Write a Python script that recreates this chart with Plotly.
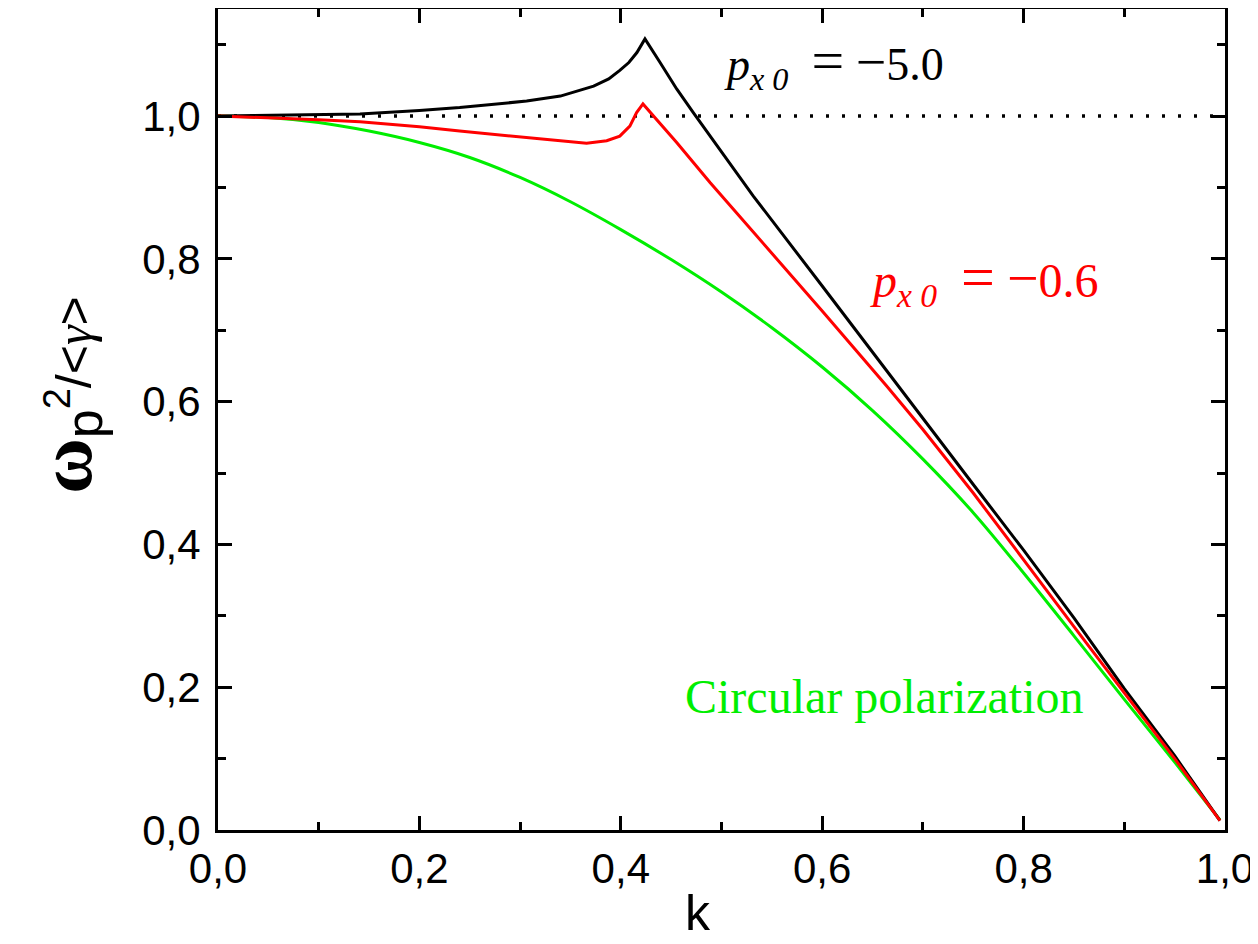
import plotly.graph_objects as go

# ---- data ----
k_black = [0.0, 0.05, 0.10, 0.141, 0.20, 0.24, 0.3065, 0.34, 0.373, 0.388, 0.399, 0.408, 0.416, 0.424,
           0.439, 0.4555, 0.472, 0.4886, 0.5316, 0.60, 0.664, 0.70, 0.75, 0.80, 0.85, 0.90, 0.95, 0.995]
w_black = [1.000, 1.001, 1.002, 1.003, 1.008, 1.012, 1.021, 1.028, 1.042, 1.052, 1.064, 1.075, 1.089, 1.108,
           1.075, 1.038, 1.005, 0.972, 0.888, 0.762, 0.643, 0.576, 0.484, 0.392, 0.297, 0.198, 0.104, 0.013]

k_red = [0.0, 0.05, 0.10, 0.141, 0.20, 0.24, 0.30, 0.34, 0.366, 0.386, 0.399, 0.409, 0.4157, 0.422,
         0.44, 0.4555, 0.4886, 0.5316, 0.60, 0.664, 0.70, 0.75, 0.80, 0.85, 0.90, 0.95, 0.995]
w_red = [1.000, 0.998, 0.995, 0.992, 0.985, 0.979, 0.971, 0.965, 0.962, 0.9655, 0.972, 0.986, 1.005, 1.017,
         0.988, 0.963, 0.907, 0.838, 0.727, 0.622, 0.561, 0.472, 0.378, 0.285, 0.192, 0.100, 0.013]

k_green = [0.0, 0.05, 0.10, 0.15, 0.20, 0.25, 0.30, 0.35, 0.40, 0.45, 0.50, 0.55, 0.60,
           0.65, 0.70, 0.75, 0.80, 0.85, 0.90, 0.95, 0.995]
w_green = [1.000, 0.998, 0.991, 0.979, 0.963, 0.942, 0.914, 0.880, 0.841, 0.799, 0.7535, 0.7035, 0.6485,
           0.5875, 0.5195, 0.4445, 0.360, 0.272, 0.183, 0.095, 0.014]

k_ref = [0.0, 1.0]
w_ref = [1.0, 1.0]

x_ticks = [0.0, 0.2, 0.4, 0.6, 0.8, 1.0]
y_ticks = [0.0, 0.2, 0.4, 0.6, 0.8, 1.0]

fig = go.Figure()
fig.add_trace(go.Scatter(x=k_ref, y=w_ref, mode="lines",
                         line=dict(color="black", width=3.5, dash="3px,13px"), showlegend=False))
fig.add_trace(go.Scatter(x=k_green, y=w_green, mode="lines",
                         line=dict(color="#00ee00", width=3, shape="spline", smoothing=0.8), showlegend=False))
fig.add_trace(go.Scatter(x=k_black, y=w_black, mode="lines",
                         line=dict(color="black", width=3), showlegend=False))
fig.add_trace(go.Scatter(x=k_red, y=w_red, mode="lines",
                         line=dict(color="#ff0000", width=3), showlegend=False))

axis_common = dict(
    showline=True, linecolor="black", linewidth=3, mirror="ticks",
    ticks="inside", ticklen=14, tickwidth=2.5, tickcolor="black",
    showgrid=False, zeroline=False, tickformat=".1f",
    tickfont=dict(family="Liberation Sans, Arial", size=42, color="black"),
    minor=dict(ticks="inside", ticklen=8, tickwidth=2.5, tickcolor="black", dtick=0.1, showgrid=False),
)

fig.update_xaxes(range=[0, 1], tickvals=x_ticks, ticklabelstandoff=0, **axis_common)
fig.update_yaxes(range=[0, 1.15], tickvals=y_ticks, ticklabelstandoff=6, **axis_common)

# x-axis title
fig.add_annotation(
    x=0.4766, y=-0.101, xref="paper", yref="paper", xanchor="center", yanchor="middle",
    showarrow=False, text="k",
    font=dict(family="Liberation Sans, Arial", size=50, color="black"),
)
# y-axis title
fig.add_annotation(
    x=-0.149, y=0.53, xref="paper", yref="paper", xanchor="center", yanchor="middle",
    showarrow=False, textangle=-90,
    text=("<span style='font-family:Liberation Serif;font-size:76px'><b>ω</b></span>"
          "<sub><span style='font-size:52px'>p</span></sub>"
          "<sup><span style='font-size:38px'>2</span></sup>/&lt;"
          "<span style='font-family:Liberation Serif'><i>γ</i></span>&gt;"),
    font=dict(family="Liberation Sans, Arial", size=50, color="black"),
)

fig.add_annotation(
    x=0.5, y=1.075, xref="x", yref="y", xanchor="left", yanchor="middle", showarrow=False,
    text=("<i>p</i><sub><i>x 0</i></sub>&nbsp;&nbsp;<span style='font-size:58px'>=</span>&nbsp;"
          "<span style='font-size:54px'>−</span>5.0"),
    font=dict(family="Liberation Serif", size=46, color="black"),
)
fig.add_annotation(
    x=0.645, y=0.772, xref="x", yref="y", xanchor="left", yanchor="middle", showarrow=False,
    text=("<i>p</i><sub><i>x 0</i></sub>&nbsp;&nbsp;<span style='font-size:60px'>=</span>&nbsp;"
          "<span style='font-size:56px'>−</span>0.6"),
    font=dict(family="Liberation Serif", size=48, color="#ff0000"),
)
fig.add_annotation(
    x=0.462, y=0.1865, xref="x", yref="y", xanchor="left", yanchor="middle", showarrow=False,
    text="Circular polarization",
    font=dict(family="Liberation Serif", size=48, color="#00ee00"),
)

fig.update_layout(
    width=1250, height=936, separators=", ",
    margin=dict(l=210, r=33, t=1, b=114, autoexpand=False),
    plot_bgcolor="white", paper_bgcolor="white",
    showlegend=False,
)

fig.write_html("out.html")
